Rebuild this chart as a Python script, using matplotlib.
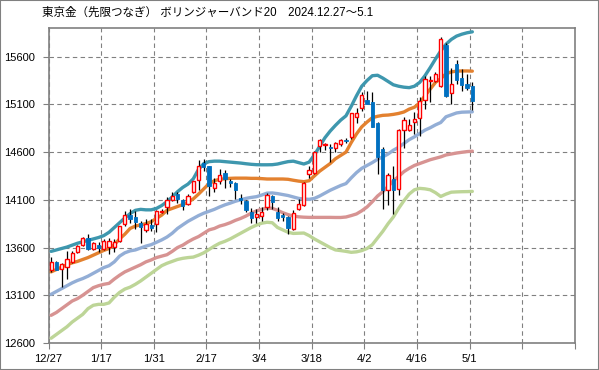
import matplotlib
matplotlib.use("Agg")
import matplotlib.pyplot as plt
from matplotlib.patches import Rectangle
import numpy as np

plt.rcParams['font.family'] = ['Liberation Sans', 'Noto Sans CJK JP', 'DejaVu Sans']

title = "東京金（先限つなぎ） ボリンジャーバンド20　2024.12.27～5.1"
tick_labels = ['12/27', '1/17', '1/31', '2/17', '3/4', '3/18', '4/2', '4/16', '5/1', '', '']
y_ticks = [12600, 13100, 13600, 14100, 14600, 15100, 15600]

open_ = [13370, 13445, 13380, 13400, 13450, 13550, 13625, 13700, 13580, 13625,
         13580, 13610, 13610, 13665, 13845, 13942, 13925, 13862, 13788, 13840,
         13848, 13975, 14025, 14095, 14160, 14093, 14060, 14180, 14310, 14485,
         14450, 14222, 14292, 14380, 14292, 14275, 14120, 14090, 13977, 13925,
         13930, 14028, 14140, 13975, 13940, 13915, 13790, 14003, 14045, 14372,
         14386, 14666, 14670, 14650, 14640, 14690, 14730, 14760, 14970, 15058,
         15145, 15120, 14900, 14630, 14205, 14320, 14215, 14830, 14830, 14918,
         14953, 15142, 15345, 15345, 15290, 15720, 15222, 15527, 15380, 15310,
         15290]
high = [13500, 13460, 13440, 13560, 13560, 13630, 13710, 13745, 13655, 13660,
        13690, 13700, 13690, 13830, 13985, 14000, 13980, 13875, 13895, 13895,
        13990, 14000, 14125, 14180, 14180, 14110, 14160, 14300, 14520, 14530,
        14455, 14330, 14420, 14410, 14320, 14290, 14160, 14100, 14010, 14000,
        14020, 14170, 14150, 14030, 13960, 13930, 13990, 14110, 14290, 14450,
        14610, 14740, 14700, 14680, 14710, 14740, 14750, 15010, 15060, 15230,
        15240, 15230, 14920, 14650, 14380, 14450, 14840, 14970, 14950, 15015,
        15180, 15400, 15400, 15440, 15810, 15740, 15480, 15570, 15470, 15420,
        15330]
low = [13340, 13360, 13185, 13270, 13440, 13540, 13615, 13575, 13570, 13550,
       13570, 13530, 13555, 13655, 13830, 13860, 13790, 13645, 13760, 13775,
       13760, 13965, 13950, 14085, 14070, 13990, 14050, 14170, 14205, 14400,
       14135, 14180, 14270, 14220, 14230, 14110, 14060, 13970, 13860, 13860,
       13880, 13990, 14000, 13880, 13880, 13740, 13780, 13990, 14035, 14330,
       14370, 14600, 14620, 14500, 14600, 14660, 14700, 14740, 14900, 15030,
       15100, 14860, 14370, 14000, 14050, 13950, 14150, 14640, 14820, 14790,
       14770, 15050, 15120, 15330, 15280, 15180, 15100, 15310, 15240, 15250,
       15040]
close = [13445, 13370, 13425, 13485, 13540, 13615, 13695, 13585, 13645, 13600,
         13670, 13670, 13660, 13828, 13940, 13900, 13872, 13812, 13848, 13802,
         13978, 13985, 14100, 14140, 14105, 14037, 14142, 14300, 14458, 14445,
         14240, 14280, 14362, 14317, 14275, 14205, 14100, 13995, 13907, 13950,
         13977, 14150, 14080, 13905, 13915, 13810, 13958, 14052, 14274, 14414,
         14596, 14730, 14680, 14640, 14695, 14730, 14715, 15005, 15005, 15198,
         15105, 14865, 14550, 14198, 14356, 14198, 14830, 14935, 14880, 14945,
         15135, 15362, 15355, 15420, 15780, 15190, 15317, 15360, 15300, 15270,
         15135]

upper2 = [13560, 13575, 13590, 13605, 13625, 13645, 13660, 13675, 13690, 13705,
          13725, 13760, 13810, 13860, 13910, 13955, 13990, 14000, 13995, 13995,
          14010, 14040, 14080, 14130, 14185, 14230, 14265, 14320, 14420, 14480,
          14500, 14505, 14505, 14500, 14495, 14490, 14485, 14478, 14472, 14468,
          14467, 14467, 14468, 14475, 14488, 14500, 14505, 14490, 14475, 14495,
          14570, 14660, 14750, 14820, 14880, 14935, 14980, 15080, 15190, 15290,
          15350, 15400, 15405, 15375, 15340, 15305, 15290, 15280, 15275, 15290,
          15330, 15400, 15485, 15575, 15660, 15730, 15780, 15815, 15835, 15850,
          15860]
upper1 = [13345, 13370, 13395, 13420, 13440, 13455, 13475, 13495, 13520, 13545,
          13570, 13590, 13630, 13690, 13740, 13800, 13825, 13838, 13850, 13870,
          13905, 13940, 13990, 14010, 14030, 14050, 14075, 14110, 14160, 14215,
          14270, 14300, 14315, 14320, 14325, 14327, 14327, 14327, 14325, 14325,
          14322, 14318, 14318, 14318, 14318, 14315, 14305, 14296, 14290, 14300,
          14350, 14400, 14440, 14480, 14530, 14565, 14600, 14700, 14790, 14865,
          14915, 14960, 14975, 14985, 14988, 14995, 15005, 15020, 15050, 15070,
          15115, 15190, 15260, 15330, 15370, 15420, 15440, 15448, 15450, 15450,
          15448]
middle = [13110, 13140, 13170, 13200, 13230, 13255, 13275, 13300, 13330, 13360,
          13390, 13410, 13450, 13510, 13545, 13565, 13575, 13595, 13615, 13630,
          13655, 13680, 13710, 13750, 13800, 13838, 13875, 13905, 13935, 13960,
          13980, 14000, 14025, 14047, 14065, 14085, 14100, 14115, 14125, 14133,
          14150, 14170, 14172, 14165, 14155, 14145, 14130, 14115, 14108, 14105,
          14115, 14140, 14170, 14200, 14225, 14250, 14270, 14330, 14385, 14430,
          14460, 14490, 14525, 14550, 14580, 14620, 14650, 14690, 14730, 14760,
          14795, 14830, 14855, 14885, 14910, 14970, 14990, 15010, 15018, 15020,
          15022]
lower1 = [12890, 12920, 12960, 13000, 13040, 13065, 13100, 13140, 13180, 13200,
          13215, 13225, 13270, 13310, 13345, 13370, 13395, 13420, 13450, 13470,
          13495, 13510, 13525, 13560, 13600, 13625, 13660, 13690, 13715, 13750,
          13785, 13800, 13825, 13840, 13860, 13885, 13905, 13930, 13960, 13984,
          14000, 14015, 14010, 13990, 13965, 13945, 13930, 13922, 13918, 13916,
          13916, 13916, 13916, 13916, 13915, 13915, 13920, 13935, 13952, 13985,
          14025, 14080, 14140, 14185, 14240, 14300, 14345, 14395, 14430, 14460,
          14480, 14500, 14520, 14535, 14550, 14570, 14580, 14590, 14598, 14605,
          14610]
lower2 = [12650, 12690, 12730, 12770, 12820, 12860, 12900, 12960, 12995, 13005,
          13005, 13020, 13080, 13130, 13165, 13185, 13215, 13250, 13290, 13330,
          13370, 13410, 13435, 13455, 13475, 13487, 13495, 13500, 13520, 13545,
          13580, 13615, 13645, 13665, 13690, 13720, 13750, 13780, 13810, 13835,
          13855, 13865, 13860, 13810, 13785, 13760, 13748, 13750, 13752, 13725,
          13690, 13660, 13630, 13600, 13575, 13568, 13560, 13550, 13555, 13568,
          13590, 13630, 13700, 13770, 13850, 13920, 14010, 14090, 14160, 14205,
          14220, 14215, 14205, 14175, 14135, 14160, 14180, 14183, 14185, 14186,
          14188]

W, H = 599, 370
fig = plt.figure(figsize=(W / 100, H / 100), dpi=100)
fig.patch.set_facecolor('white')
ax = fig.add_axes([48.5 / W, (H - 343) / H, (575 - 48.5) / W, (343 - 28) / H])

x = np.arange(len(close))
# bands
band_styles = [
    (upper2, '#3E97AE'),
    (upper1, '#E3812F'),
    (middle, '#93AED6'),
    (lower1, '#D79392'),
    (lower2, '#BDD597'),
]
for vals, col in band_styles:
    ax.plot(x, vals, color=col, lw=2.4, solid_capstyle='round', zorder=3)

o = np.array(open_); c = np.array(close); h = np.array(high); l = np.array(low)
up = c >= o
ax.vlines(x, l, h, color='black', lw=0.9, zorder=4)
bottoms = np.minimum(o, c)
heights = np.maximum(np.abs(c - o), 8)
ax.bar(x[up], heights[up], bottom=bottoms[up], width=0.62,
       facecolor='white', edgecolor='#FF0000', linewidth=1.0, zorder=5)
ax.bar(x[~up], heights[~up], bottom=bottoms[~up], width=0.62,
       facecolor='#0070C0', edgecolor='#0070C0', linewidth=0.6, zorder=5)

ax.set_xlim(-0.5, 99.5)
ax.set_ylim(12600, 15900)
ax.set_yticks(y_ticks)
ax.set_yticklabels([str(v) for v in y_ticks])
xt = [-0.5 + 10 * k for k in range(len(tick_labels))]
ax.set_xticks(xt)
ax.set_xticklabels(tick_labels)
ax.tick_params(axis='both', labelsize=8, color='#808080', length=4, width=0.8)
ax.tick_params(axis='y', pad=6)
ax.tick_params(axis='x', pad=4)
for lbl in ax.get_xticklabels() + ax.get_yticklabels():
    lbl.set_color('black')

for s in ax.spines.values():
    s.set_color('#808080')
    s.set_linewidth(1.2)

ax.grid(True, color='#808080', linestyle=(0, (4, 3)), linewidth=0.8, zorder=1)
ax.set_axisbelow(True)

fig.text(42 / W, 1 - 13 / H, title, fontsize=8.3, va='center', ha='left',
         family=['Liberation Sans', 'Noto Sans CJK JP'])

fig.patches.append(Rectangle((0, 0), 1, 1, transform=fig.transFigure, fill=False,
                             edgecolor='#808080', linewidth=1.5))

fig.savefig('out.png', dpi=100)
